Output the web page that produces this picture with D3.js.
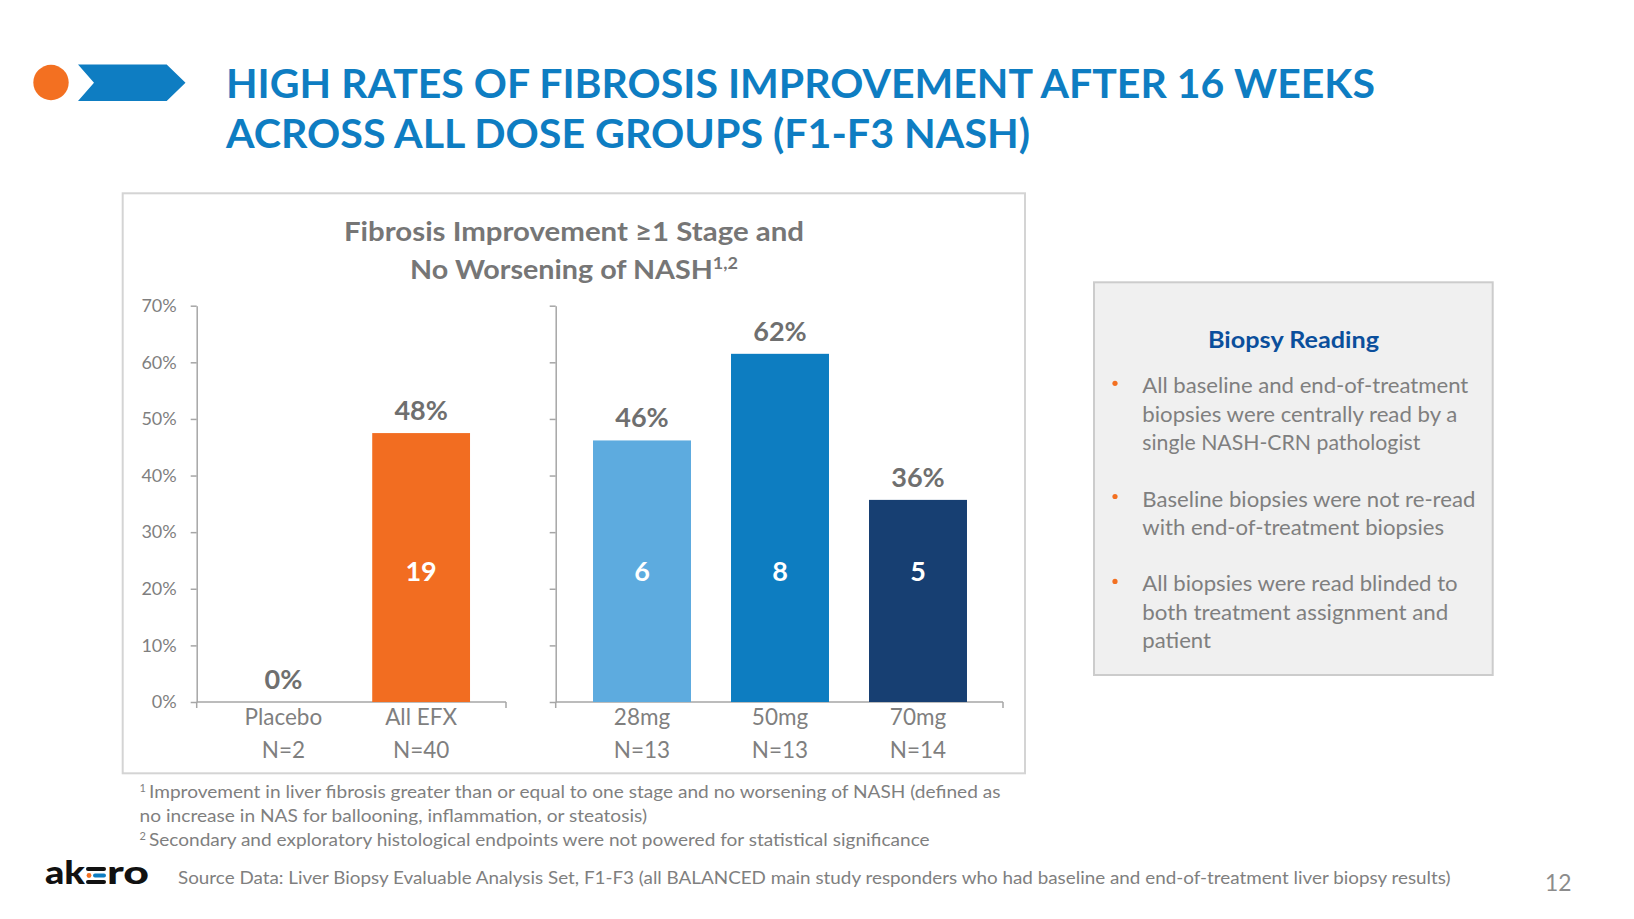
<!DOCTYPE html>
<html>
<head>
<meta charset="utf-8">
<script src="https://cdn.jsdelivr.net/npm/d3@7"></script>
<style>
  html, body { margin: 0; padding: 0; background: #ffffff; }
  svg { display: block; font-family: Lato, "Open Sans", sans-serif; }
</style>
</head>
<body>
<svg id="slide" width="1634" height="919"></svg>
<script>
// chart values
const categories = ["Placebo", "All EFX", "28mg", "50mg", "70mg"];
const sampleSizes = ["N=2", "N=40", "N=13", "N=13", "N=14"];
const rates = [0, 47.5, 46.2, 61.5, 35.7];
const rateLabels = ["0%", "48%", "46%", "62%", "36%"];
const responders = [0, 19, 6, 8, 5];
const panelOf = [0, 0, 1, 1, 1];
const yTicks = [0, 10, 20, 30, 40, 50, 60, 70];

const titleLines = ["HIGH RATES OF FIBROSIS IMPROVEMENT AFTER 16 WEEKS", "ACROSS ALL DOSE GROUPS (F1-F3 NASH)"];
const chartTitle = ["Fibrosis Improvement \u22651 Stage and", "No Worsening of NASH"];
const boxTitle = "Biopsy Reading";
const bulletLines = [
    ["All baseline and end-of-treatment", "biopsies were centrally read by a", "single NASH-CRN pathologist"],
    ["Baseline biopsies were not re-read", "with end-of-treatment biopsies"],
    ["All biopsies were read blinded to", "both treatment assignment and", "patient"]
];
const footnotes = [
    ["1", "Improvement in liver fibrosis greater than or equal to one stage and no worsening of NASH (defined as"],
    ["", "no increase in NAS for ballooning, inflammation, or steatosis)"],
    ["2", "Secondary and exploratory histological endpoints were not powered for statistical significance"]
];
const sourceText = "Source Data: Liver Biopsy Evaluable Analysis Set, F1-F3 (all BALANCED main study responders who had baseline and end-of-treatment liver biopsy results)";

const COLORS = {
    blue: "#0e7dc2",
    orange: "#f37021",
    bars: { "Placebo": "#f26d21", "All EFX": "#f26d21", "28mg": "#5dabdf", "50mg": "#0d7dc1", "70mg": "#173f72" },
    text: "#7f7f7f",
    value: "#6f6f6f",
    axis: "#a6a6a6",
    boxTitle: "#0b4f9c"
}

const svg = d3.select("#slide");

function fit(sel, w) {
    return sel.attr("textLength", w).attr("lengthAdjust", "spacingAndGlyphs");
}

// header icon
svg.append("circle")
    .attr("cx", 51).attr("cy", 82.5).attr("r", 17.7)
    .attr("fill", COLORS.orange);
svg.append("polygon")
    .attr("points", "78,64.6 166.7,64.6 185.5,82.8 166.7,101 78,101 94,82.8")
    .attr("fill", COLORS.blue);

var titleX = 226, titleW = [1149, 804], titleY = [98, 148];
titleLines.forEach((t, i) => {
    svg.append("text")
        .attr("x", titleX).attr("y", titleY[i])
        .attr("font-size", 40).attr("font-weight", 700)
        .attr("fill", COLORS.blue)
        .text(t)
        .call(fit, titleW[i]);
});

// chart frame
svg.append("rect")
    .attr("x", 122.7).attr("y", 193.3)
    .attr("width", 902.3).attr("height", 580)
    .attr("fill", "none").attr("stroke", "#d4d4d4").attr("stroke-width", 2);

svg.append("text")
    .attr("x", 574).attr("y", 240.7)
    .attr("text-anchor", "middle")
    .attr("font-size", 27).attr("font-weight", 700).attr("fill", "#767676")
    .text(chartTitle[0])
    .call(fit, 460);
var t2 = svg.append("text")
    .attr("x", 574).attr("y", 279.3)
    .attr("text-anchor", "middle")
    .attr("font-size", 27).attr("font-weight", 700).attr("fill", "#767676");
t2.append("tspan").text(chartTitle[1]);
t2.append("tspan").attr("font-size", 17).attr("dy", -10).text("1,2");
t2.call(fit, 328);

// scales
var y = d3.scaleLinear().domain([0, 70]).range([702, 305.7]);

const panels = [
    { axisX0: 196.7, axisX1: 506, band: [214.5, 490], tickLabels: true },
    { axisX0: 555.7, axisX1: 1003, band: [573, 987], tickLabels: false }
];

panels.forEach((p, pi) => {
    var cats = categories.filter((c, i) => panelOf[i] === pi);
    p.x = d3.scaleBand().domain(cats).range(p.band).paddingInner(0.29).paddingOuter(0.145);

    var yAxis = d3.axisLeft(y)
        .tickValues(yTicks)
        .tickSize(6)
        .tickSizeOuter(0)
        .tickFormat(p.tickLabels ? (d => d + "%") : "");
    var g = svg.append("g")
        .attr("transform", "translate(" + p.axisX0 + ",0)")
        .call(yAxis);
    g.selectAll("path, line").attr("stroke", COLORS.axis).attr("stroke-width", 1.5);
    g.selectAll("text")
        .attr("font-family", "Lato, sans-serif")
        .attr("font-size", 18).attr("fill", COLORS.text)
        .attr("x", -20);

    // category axis line with end ticks
    svg.append("line")
        .attr("x1", p.axisX0).attr("x2", p.axisX1)
        .attr("y1", y(0)).attr("y2", y(0))
        .attr("stroke", COLORS.axis).attr("stroke-width", 1.5);
    [p.axisX0, p.axisX1].forEach(xx => {
        svg.append("line")
            .attr("x1", xx).attr("x2", xx)
            .attr("y1", y(0)).attr("y2", y(0) + 6)
            .attr("stroke", COLORS.axis).attr("stroke-width", 1.5);
    });
});

function xOf(i) {
    var p = panels[panelOf[i]];
    return p.x(categories[i]);
}
function bw(i) {
    return panels[panelOf[i]].x.bandwidth();
}

// bars
categories.forEach((c, i) => {
    if (rates[i] > 0) {
        svg.append("rect")
            .attr("x", xOf(i)).attr("y", y(rates[i]))
            .attr("width", bw(i)).attr("height", y(0) - y(rates[i]))
            .attr("fill", COLORS.bars[c]);
    }
    var cx = xOf(i) + bw(i) / 2;
    svg.append("text")
        .attr("x", cx).attr("y", y(rates[i]) - 13)
        .attr("text-anchor", "middle")
        .attr("font-size", 27).attr("font-weight", 700).attr("fill", COLORS.value)
        .text(rateLabels[i]);
    if (responders[i] > 0) {
        svg.append("text")
            .attr("x", cx).attr("y", y(23))
            .attr("dy", "0.35em")
            .attr("text-anchor", "middle")
            .attr("font-size", 27).attr("font-weight", 700).attr("fill", "#ffffff")
            .text(responders[i]);
    }
    svg.append("text")
        .attr("x", cx).attr("y", 725)
        .attr("text-anchor", "middle")
        .attr("font-size", 22.5).attr("fill", COLORS.text)
        .text(c);
    svg.append("text")
        .attr("x", cx).attr("y", 758)
        .attr("text-anchor", "middle")
        .attr("font-size", 22.5).attr("fill", COLORS.text)
        .text(sampleSizes[i]);
});

// biopsy box
svg.append("rect")
    .attr("x", 1094).attr("y", 282.3)
    .attr("width", 398.7).attr("height", 392.7)
    .attr("fill", "#f0f0f0").attr("stroke", "#cccccc").attr("stroke-width", 2);
svg.append("text")
    .attr("x", 1293.5).attr("y", 348)
    .attr("text-anchor", "middle")
    .attr("font-size", 23.5).attr("font-weight", 700).attr("fill", COLORS.boxTitle)
    .text(boxTitle)
    .call(fit, 171);

var bulletWidths = [[326, 315, 278], [333, 301.7], [315.3, 306, 68.7]];
var lineGap = 28.3, lineY = 393.3;
bulletLines.forEach((lines, bi) => {
    svg.append("circle")
        .attr("cx", 1115).attr("cy", lineY - 10).attr("r", 2.6)
        .attr("fill", COLORS.orange);
    lines.forEach((ln, li) => {
        svg.append("text")
            .attr("x", 1142.3).attr("y", lineY)
            .attr("font-size", 21.5).attr("fill", COLORS.text)
            .text(ln)
            .call(fit, bulletWidths[bi][li]);
        lineY += lineGap;
    });
    lineY += lineGap;
});

// footnotes
var footY = [798, 822, 846], footW = [851.5, 507.4, 780.6], footX = [149, 139.6, 149];
footnotes.forEach((f, i) => {
    if (f[0]) {
        svg.append("text")
            .attr("x", 139.6).attr("y", footY[i] - 6)
            .attr("font-size", 11).attr("fill", COLORS.text)
            .text(f[0]);
    }
    svg.append("text")
        .attr("x", footX[i]).attr("y", footY[i])
        .attr("font-size", 16.5).attr("fill", COLORS.text)
        .text(f[1])
        .call(fit, footW[i]);
});

svg.append("text")
    .attr("x", 178).attr("y", 883.6)
    .attr("font-size", 16.5).attr("fill", COLORS.text)
    .text(sourceText)
    .call(fit, 1272.6);

svg.append("text")
    .attr("x", 1545).attr("y", 891)
    .attr("font-size", 24).attr("fill", "#8c8c8c")
    .text("12")
    .call(fit, 26.5);

// akero logo
var logoY = 884;
svg.append("text")
    .attr("x", 45).attr("y", logoY)
    .attr("font-size", 32).attr("font-weight", 900).attr("fill", "#111111")
    .text("ak")
    .call(fit, 40);
svg.append("rect").attr("x", 86).attr("y", logoY - 17).attr("width", 20).attr("height", 4).attr("rx", 2).attr("fill", "#111111");
svg.append("circle").attr("cx", 89).attr("cy", logoY - 8.5).attr("r", 2.4).attr("fill", COLORS.orange);
svg.append("rect").attr("x", 93).attr("y", logoY - 10.5).attr("width", 13).attr("height", 4).attr("rx", 2).attr("fill", COLORS.blue);
svg.append("rect").attr("x", 86).attr("y", logoY - 4).attr("width", 20).attr("height", 4).attr("rx", 2).attr("fill", "#111111");
svg.append("text")
    .attr("x", 107).attr("y", logoY)
    .attr("font-size", 32).attr("font-weight", 900).attr("fill", "#111111")
    .text("ro")
    .call(fit, 42);
</script>
</body>
</html>
